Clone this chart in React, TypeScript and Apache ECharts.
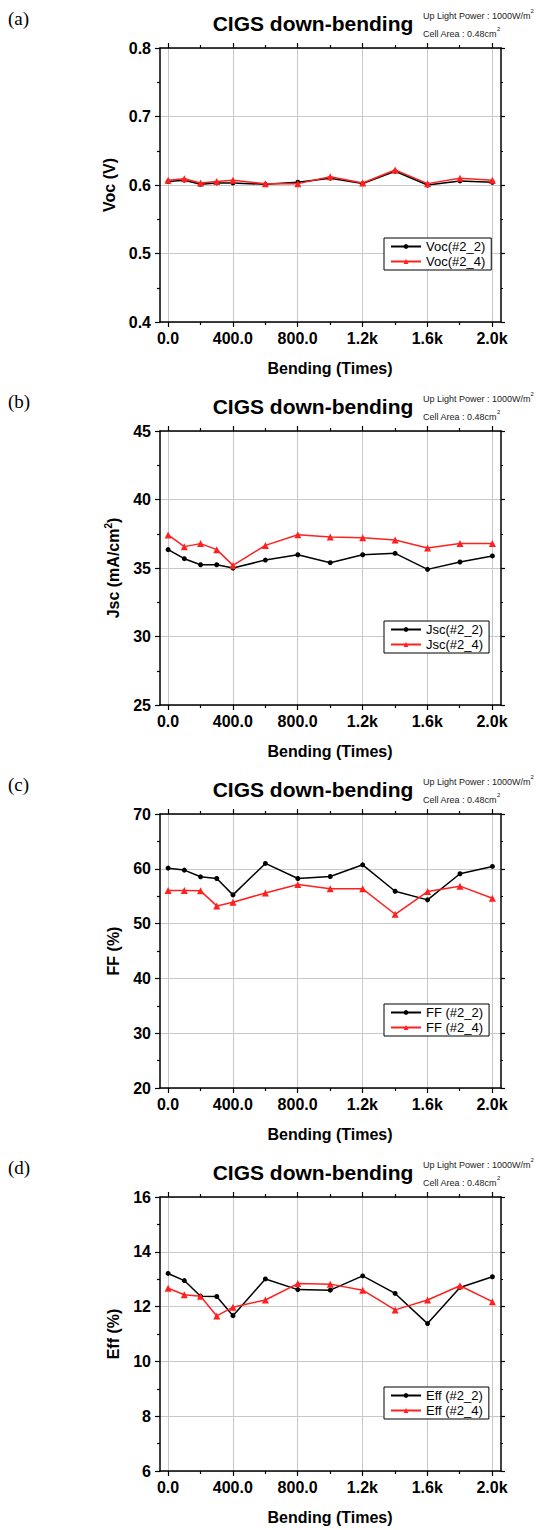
import React, { useEffect, useRef } from 'react';
import * as echarts from 'echarts';

const bending = [0, 100, 200, 300, 400, 600, 800, 1000, 1200, 1400, 1600, 1800, 2000];
const xTickLabels = ['0.0', '400.0', '800.0', '1.2k', '1.6k', '2.0k'];

const voc22 = [0.605, 0.607, 0.601, 0.603, 0.603, 0.601, 0.604, 0.610, 0.602, 0.620, 0.600, 0.606, 0.604];
const voc24 = [0.607, 0.609, 0.603, 0.605, 0.607, 0.602, 0.602, 0.612, 0.603, 0.622, 0.602, 0.610, 0.607];

const jsc22 = [36.34, 35.68, 35.24, 35.24, 35.0, 35.58, 35.97, 35.39, 35.97, 36.07, 34.9, 35.44, 35.88];
const jsc24 = [37.41, 36.56, 36.78, 36.34, 35.19, 36.65, 37.43, 37.26, 37.21, 37.04, 36.46, 36.78, 36.78];

const ff22 = [60.12, 59.76, 58.54, 58.23, 55.24, 60.98, 58.23, 58.6, 60.73, 55.9, 54.33, 59.09, 60.43];
const ff24 = [56.04, 56.04, 55.98, 53.23, 53.9, 55.6, 57.13, 56.34, 56.34, 51.7, 55.85, 56.83, 54.63];

const eff22 = [13.21, 12.95, 12.38, 12.37, 11.67, 13.01, 12.62, 12.6, 13.12, 12.48, 11.38, 12.7, 13.09];
const eff24 = [12.67, 12.43, 12.38, 11.66, 11.98, 12.24, 12.84, 12.82, 12.6, 11.88, 12.24, 12.76, 12.18];

const panelLabels = ['(a)', '(b)', '(c)', '(d)'];
const titleText = 'CIGS down-bending';
const note1 = 'Up Light Power : 1000W/m';
const note2 = 'Cell Area : 0.48cm';
const xName = 'Bending (Times)';

const yNames = ['{n|Voc (V)}', '{n|Jsc (mA/cm}{s|2}{n|)}', '{n|FF (%)}', '{n|Eff (%)}'];
const yMins = [0.4, 25, 20, 6];
const yMaxs = [0.8, 45, 70, 16];
const yIntervals = [0.1, 5, 10, 2];
const yDecimals = [1, 0, 0, 0];
const names22 = ['Voc(#2_2)', 'Jsc(#2_2)', 'FF (#2_2)', 'Eff (#2_2)'];
const names24 = ['Voc(#2_4)', 'Jsc(#2_4)', 'FF (#2_4)', 'Eff (#2_4)'];
const data22 = [voc22, jsc22, ff22, eff22];
const data24 = [voc24, jsc24, ff24, eff24];

const FONT = 'Liberation Sans, Arial, sans-serif';
const SERIF = 'Liberation Serif, Times New Roman, serif';
const GRID_GRAY = '#c8c8c8';
const RED = '#ff2020';

export default function App() {
  const ref = useRef<HTMLDivElement>(null);

  useEffect(() => {
    const chart = echarts.init(ref.current!, null, { renderer: 'svg' });

    const tops = [48, 431, 814, 1197];
    const plotH = 274;
    const grids: any[] = [];
    const xAxes: any[] = [];
    const yAxes: any[] = [];
    const series: any[] = [];
    const legends: any[] = [];
    const graphics: any[] = [];

    const frameLine = { show: true, onZero: false, lineStyle: { color: '#000', width: 1.5 } };

    tops.forEach((T, p) => {
      grids.push({ left: 160, top: T, width: 341, height: plotH });
      grids.push({ left: 168, top: T, width: 324, height: plotH });
      const gA = 2 * p;
      const gB = 2 * p + 1;

      xAxes.push({
        type: 'value', gridIndex: gA, position: 'bottom', min: -50, max: 2053,
        axisLine: frameLine, axisTick: { show: false }, axisLabel: { show: false }, splitLine: { show: false },
      });
      xAxes.push({
        type: 'value', gridIndex: gA, position: 'top', min: -50, max: 2053,
        axisLine: frameLine, axisTick: { show: false }, axisLabel: { show: false }, splitLine: { show: false },
      });
      xAxes.push({
        type: 'value', gridIndex: gB, position: 'bottom', min: 0, max: 2000, interval: 400,
        axisLine: { show: false, onZero: false },
        axisTick: { show: true, inside: false, length: 5, lineStyle: { color: '#000', width: 1.2 } },
        minorTick: { show: true, splitNumber: 2, length: 3, lineStyle: { color: '#000', width: 1.2 } },
        axisLabel: {
          show: true, margin: 8, color: '#000', fontSize: 16, fontWeight: 'bold', fontFamily: FONT,
          formatter: (v: number) => xTickLabels[Math.round(v / 400)] ?? '',
        },
        splitLine: { show: true, lineStyle: { color: GRID_GRAY, width: 1 } },
        name: xName, nameLocation: 'middle', nameGap: 38,
        nameTextStyle: { color: '#000', fontSize: 16, fontWeight: 'bold', fontFamily: FONT },
      });
      xAxes.push({
        type: 'value', gridIndex: gB, position: 'top', min: 0, max: 2000, interval: 400,
        axisLine: { show: false, onZero: false },
        axisTick: { show: true, inside: false, length: 5, lineStyle: { color: '#000', width: 1.2 } },
        minorTick: { show: true, splitNumber: 2, length: 3, lineStyle: { color: '#000', width: 1.2 } },
        axisLabel: { show: false }, splitLine: { show: false },
      });

      yAxes.push({
        type: 'value', gridIndex: gA, position: 'left', min: yMins[p], max: yMaxs[p], interval: yIntervals[p],
        axisLine: frameLine,
        axisTick: { show: true, inside: false, length: 5, lineStyle: { color: '#000', width: 1.2 } },
        minorTick: { show: true, splitNumber: 2, length: 3, lineStyle: { color: '#000', width: 1.2 } },
        axisLabel: {
          show: true, margin: 9, color: '#000', fontSize: 16, fontWeight: 'bold', fontFamily: FONT,
          formatter: (v: number) => v.toFixed(yDecimals[p]),
        },
        splitLine: { show: true, lineStyle: { color: GRID_GRAY, width: 1 } },
        name: yNames[p], nameLocation: 'middle', nameGap: 37, nameRotate: 90,
        nameTextStyle: {
          color: '#000', fontFamily: FONT,
          rich: {
            n: { fontSize: 16, fontWeight: 'bold', fontFamily: FONT, color: '#000', lineHeight: 20 },
            s: { fontSize: 10, fontWeight: 'bold', fontFamily: FONT, color: '#000', lineHeight: 10, verticalAlign: 'top' },
          },
        },
      });
      yAxes.push({
        type: 'value', gridIndex: gA, position: 'right', min: yMins[p], max: yMaxs[p], interval: yIntervals[p],
        axisLine: frameLine,
        axisTick: { show: true, inside: false, length: 4, lineStyle: { color: '#000', width: 1.2 } },
        minorTick: { show: true, splitNumber: 2, length: 2, lineStyle: { color: '#000', width: 1.2 } },
        axisLabel: { show: false }, splitLine: { show: false },
      });
      yAxes.push({ type: 'value', gridIndex: gB, min: 0, max: 1, show: false });

      series.push({
        type: 'line', name: names22[p], xAxisIndex: 4 * p, yAxisIndex: 3 * p,
        data: bending.map((x, i) => [x, data22[p][i]]),
        symbol: 'circle', symbolSize: 5,
        lineStyle: { color: '#000', width: 1.5 }, itemStyle: { color: '#000' }, z: 3,
      });
      series.push({
        type: 'line', name: names24[p], xAxisIndex: 4 * p, yAxisIndex: 3 * p,
        data: bending.map((x, i) => [x, data24[p][i]]),
        symbol: 'triangle', symbolSize: 7,
        lineStyle: { color: RED, width: 1.5 }, itemStyle: { color: RED }, z: 4,
      });

      legends.push({
        data: [names22[p], names24[p]], left: 384, top: T + 190, orient: 'vertical',
        itemWidth: 30, itemHeight: 6, itemGap: 2, padding: [2, 6, 2, 6],
        borderColor: '#000', borderWidth: 1, backgroundColor: '#fff', borderRadius: 0,
        selectedMode: false,
        textStyle: { fontSize: 13, color: '#000', fontFamily: FONT },
      });

      graphics.push({
        type: 'text', x: 8, y: T - 30,
        style: { text: panelLabels[p], fill: '#000', fontSize: 19, fontFamily: SERIF, align: 'left', verticalAlign: 'middle' },
      });
      graphics.push({
        type: 'text', x: 313, y: T - 25,
        style: { text: titleText, fill: '#000', fontSize: 21, fontWeight: 'bold', fontFamily: FONT, align: 'center', verticalAlign: 'middle' },
      });
      graphics.push({
        type: 'text', x: 423, y: T - 32,
        style: {
          text: '{a|' + note1 + '}{s|2}', fill: '#222', align: 'left', verticalAlign: 'middle',
          rich: {
            a: { fontSize: 9, fontFamily: FONT, fill: '#222', lineHeight: 16 },
            s: { fontSize: 6, fontFamily: FONT, fill: '#222', lineHeight: 6, verticalAlign: 'top' },
          },
        },
      });
      graphics.push({
        type: 'text', x: 423, y: T - 14,
        style: {
          text: '{a|' + note2 + '}{s|2}', fill: '#222', align: 'left', verticalAlign: 'middle',
          rich: {
            a: { fontSize: 9, fontFamily: FONT, fill: '#222', lineHeight: 16 },
            s: { fontSize: 6, fontFamily: FONT, fill: '#222', lineHeight: 6, verticalAlign: 'top' },
          },
        },
      });
    });

    chart.setOption({
      animation: false,
      backgroundColor: '#fff',
      grid: grids,
      xAxis: xAxes,
      yAxis: yAxes,
      series,
      legend: legends,
      graphic: graphics,
    });

    return () => chart.dispose();
  }, []);

  return <div ref={ref} style={{ position: 'absolute', left: 0, top: 0, width: 537, height: 1530 }} />;
}
